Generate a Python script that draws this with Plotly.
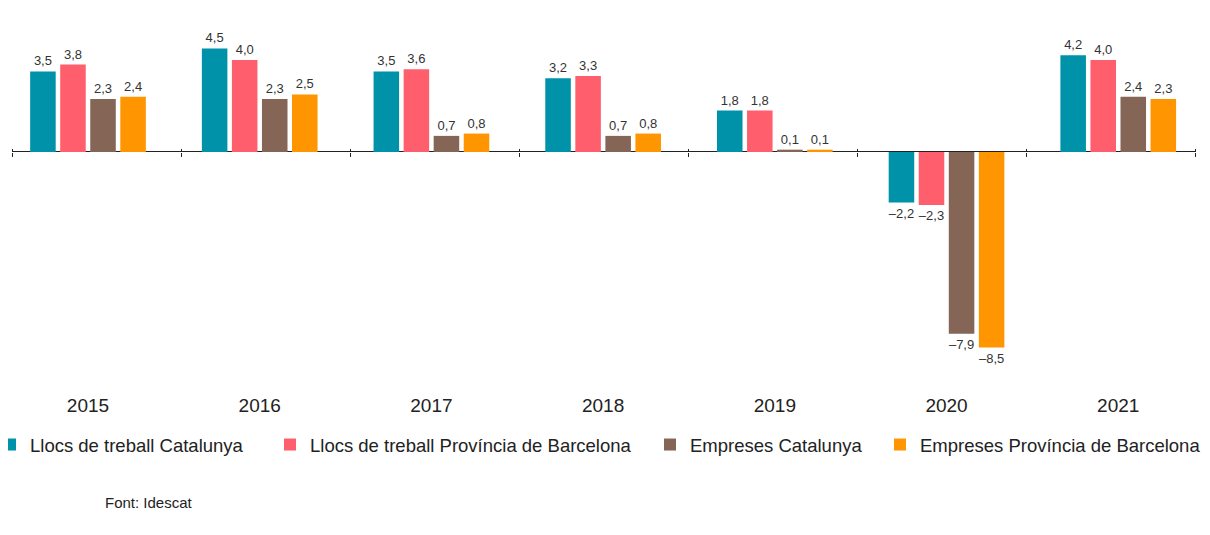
import plotly.graph_objects as go

# data
years = ["2015", "2016", "2017", "2018", "2019", "2020", "2021"]
llocs_cat = [3.5, 4.5, 3.5, 3.2, 1.8, -2.2, 4.2]
llocs_bcn = [3.8, 4.0, 3.6, 3.3, 1.8, -2.3, 4.0]
empreses_cat = [2.3, 2.3, 0.7, 0.7, 0.1, -7.9, 2.4]
empreses_bcn = [2.4, 2.5, 0.8, 0.8, 0.1, -8.5, 2.3]

names = ["Llocs de treball Catalunya", "Llocs de treball Província de Barcelona",
         "Empreses Catalunya", "Empreses Província de Barcelona"]
colors = ["#0092a8", "#ff5f6c", "#846556", "#ff9500"]
legend_ids = ["legend", "legend2", "legend3", "legend4"]

FONT = "Liberation Sans, Arial, sans-serif"
y_min, y_max = -10.13, 5.52
zero_pos = (0 - y_min) / (y_max - y_min)


def fmt(v):
    # catalan style: decimal comma, dash for negatives
    return f"{v:.1f}".replace(".", ",").replace("-", "\u2013")


fig = go.Figure()
for vals, name, col, lg in zip([llocs_cat, llocs_bcn, empreses_cat, empreses_bcn], names, colors, legend_ids):
    fig.add_trace(go.Bar(
        x=years, y=vals, name=name, marker=dict(color=col, line=dict(width=0)),
        text=[fmt(v) for v in vals], textposition="outside", cliponaxis=False,
        textfont=dict(size=13, color="#333333", family=FONT),
        legend=lg,
    ))

# legend blocks, one per series so they can be spaced like the original
# (page body adds an 8px offset, so the figure is 1202x527 and positions are shifted)
plot_w, plot_h = 1183, 360
leg_x = [-18, 262, 642, 872]
leg_common = dict(orientation="h", yanchor="middle", y=(377 - 437) / plot_h, xanchor="left",
                  font=dict(size=18.5, color="#222222", family=FONT), bgcolor="rgba(0,0,0,0)")
fig.update_layout(
    legend=dict(x=(leg_x[0] - 4) / plot_w, **leg_common),
    legend2=dict(x=(leg_x[1] - 4) / plot_w, **leg_common),
    legend3=dict(x=(leg_x[2] - 4) / plot_w, **leg_common),
    legend4=dict(x=(leg_x[3] - 4) / plot_w, **leg_common),
)

fig.update_layout(
    width=1202, height=527,
    margin=dict(l=4, r=15, t=17, b=150, autoexpand=False),
    paper_bgcolor="white", plot_bgcolor="white",
    barmode="group", bargap=0.30, bargroupgap=0.15,
    font=dict(family=FONT, color="#222222"),
    showlegend=True,
    # the bar groups in the original are spaced a little wider than the tick marks
    xaxis=dict(type="category", range=[-0.4426, 6.447], showgrid=False, showline=False, ticks="",
               tickfont=dict(size=19, color="#222222"), ticklabelstandoff=7),
    yaxis=dict(range=[y_min, y_max], showgrid=False, showticklabels=False, ticks="",
               zeroline=True, zerolinecolor="#222222", zerolinewidth=1),
    # tick marks sitting on the zero line at category boundaries
    xaxis2=dict(overlaying="x", type="category", range=[-0.5, 6.5], anchor="free", position=zero_pos,
                side="bottom", ticks="outside", tickson="boundaries", ticklen=4,
                tickcolor="#222222", showticklabels=False, showgrid=False, showline=False),
    xaxis3=dict(overlaying="x", type="category", range=[-0.5, 6.5], anchor="free", position=zero_pos,
                side="top", ticks="outside", tickson="boundaries", ticklen=3,
                tickcolor="#222222", showticklabels=False, showgrid=False, showline=False),
)

# invisible traces so the overlay axes get drawn
fig.add_trace(go.Bar(x=years, y=[None] * len(years), xaxis="x2", showlegend=False, hoverinfo="skip"))
fig.add_trace(go.Bar(x=years, y=[None] * len(years), xaxis="x3", showlegend=False, hoverinfo="skip"))

fig.add_annotation(text="Font: Idescat", xref="paper", yref="paper",
                   x=(95 - 4) / plot_w, y=(377 - 494) / plot_h, xanchor="left", yanchor="middle",
                   showarrow=False, font=dict(size=15, color="#222222", family=FONT))

fig.write_html("out.html")
